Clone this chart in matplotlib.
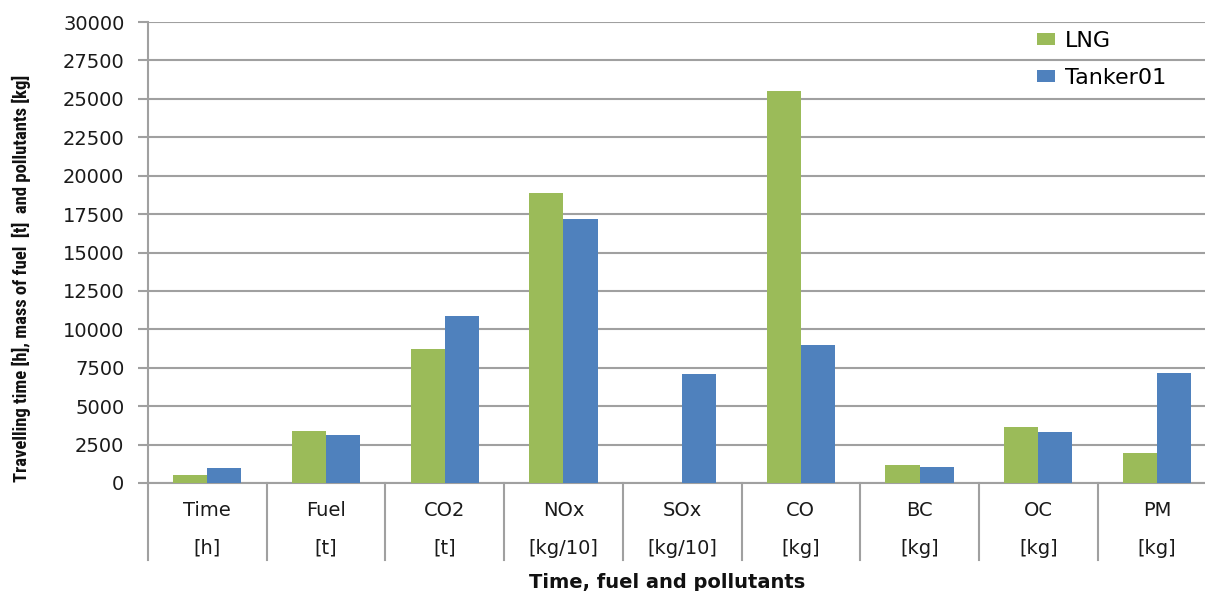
import matplotlib
matplotlib.use("Agg")
import matplotlib.pyplot as plt
from matplotlib import font_manager
import numpy as np
from matplotlib.transforms import blended_transform_factory

categories = ["Time", "Fuel", "CO2", "NOx", "SOx", "CO", "BC", "OC", "PM"]
units = ["[h]", "[t]", "[t]", "[kg/10]", "[kg/10]", "[kg]", "[kg]", "[kg]", "[kg]"]
lng = [500, 3400, 8750, 18850, 0, 25500, 1200, 3650, 1950]
tanker01 = [950, 3100, 10900, 17200, 7100, 8950, 1050, 3350, 7150]
yticks = list(range(0, 30001, 2500))

GREEN = "#9BBB59"
BLUE = "#4F81BD"
GRID = "#A0A0A0"
TXT = "#1a1a1a"


def pick_font(cands):
    for c in cands:
        try:
            font_manager.findfont(font_manager.FontProperties(family=c),
                                  fallback_to_default=False)
            return c
        except Exception:
            pass
    return "DejaVu Sans"


ylab_font = pick_font(["Liberation Sans Narrow", "Roboto Condensed",
                       "Open Sans Condensed", "Noto Sans Condensed",
                       "Liberation Sans"])

fig = plt.figure(figsize=(12.05, 5.91), dpi=100)
ax = fig.add_axes([148/1205, 1 - 483/591, 1 - 148/1205, (483 - 22)/591])

x = np.arange(len(categories))
w = 0.287
ax.bar(x - w/2, lng, width=w, color=GREEN, label="LNG", zorder=3)
ax.bar(x + w/2, tanker01, width=w, color=BLUE, label="Tanker01", zorder=3)

ax.set_ylim(0, 30000)
ax.set_xlim(-0.5, -0.5 + (1205 - 148) / 118.7)
ax.set_yticks(yticks)
ax.set_yticklabels([str(v) for v in yticks], fontsize=14, color=TXT)
ax.yaxis.grid(True, color=GRID, linewidth=1.5, zorder=0)
ax.tick_params(axis="y", length=7, width=1.5, color=GRID, pad=10)
ax.set_xticks([])

for s in ["top", "right"]:
    ax.spines[s].set_visible(False)
ax.spines["left"].set_color(GRID)
ax.spines["left"].set_linewidth(1.5)
ax.spines["bottom"].set_color(GRID)
ax.spines["bottom"].set_linewidth(1.5)

# category separators below axis
trans = blended_transform_factory(ax.transData, ax.transAxes)
ybot = -(560 - 483) / 461
for b in np.arange(len(categories) + 1) - 0.5:
    ax.plot([b, b], [0, ybot], transform=trans, color=GRID, lw=1.5,
            clip_on=False, zorder=1)

for i, (c, u) in enumerate(zip(categories, units)):
    ax.text(i, -(510 - 483) / 461, c, transform=trans, ha="center", va="center",
            fontsize=14, color=TXT)
    ax.text(i, -(548 - 483) / 461, u, transform=trans, ha="center", va="center",
            fontsize=14, color=TXT)

fig.text(667/1205, 1 - 582/591, "Time, fuel and pollutants", ha="center",
         va="center", fontsize=14, fontweight="bold", color="#111111")

ylab = fig.text(21/1205, 1 - 278/591,
                "Travelling time [h], mass of fuel  [t]  and pollutants [kg]",
                rotation=90, ha="center", va="center", fontsize=14,
                fontweight="bold", family=ylab_font, color="#111111")
# fit the label into the vertical span used in the reference (~412 px)
renderer = fig.canvas.get_renderer()
h = ylab.get_window_extent(renderer).height
ylab.set_fontsize(14 * 412 / h)

fs = 16
fpx = fs * 100 / 72
leg = ax.legend(loc="upper left", frameon=False, fontsize=fs,
                handlelength=18/fpx, handleheight=10/fpx, handletextpad=10/fpx,
                labelspacing=0.75, borderpad=0, borderaxespad=0)
leg.set_bbox_to_anchor((1037/1205, 1 - 31/591), transform=fig.transFigure)

fig.savefig("out.png", dpi=100)
